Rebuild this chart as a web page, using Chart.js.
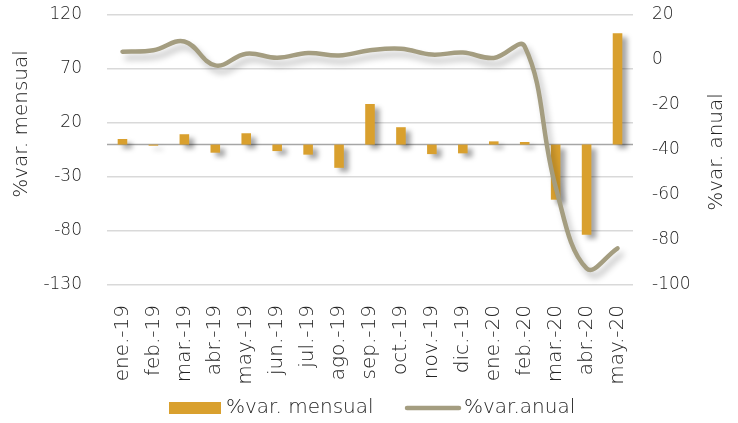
<!DOCTYPE html>
<html>
<head>
<meta charset="utf-8">
<script src="https://cdn.jsdelivr.net/npm/chart.js@4"></script>
<style>
  html, body { margin: 0; padding: 0; background: #fff; }
  #wrap { width: 738px; height: 423px; position: relative; }
</style>
</head>
<body>
<div id="wrap"><canvas id="c" width="738" height="423"></canvas></div>
<script>
const categories = ['ene.-19','feb.-19','mar.-19','abr.-19','may.-19','jun.-19','jul.-19','ago.-19','sep.-19','oct.-19','nov.-19','dic.-19','ene.-20','feb.-20','mar.-20','abr.-20','may.-20'];
const varMensual = [5.2, -1, 9.6, -7.5, 10.5, -6, -9.3, -21.5, 37.6, 16.1, -8.8, -8.1, 3, 2.4, -51, -83.4, 103];
const varAnual = [3.7, 4.3, 8.2, -2.4, 2.8, 1, 3.1, 2, 4.3, 5, 2.4, 3.3, 0.9, 6, -56.4, -92.6, -83.7];
const leftTicks = [-130, -80, -30, 20, 70, 120];
const rightTicks = [-100, -80, -60, -40, -20, 0, 20];
const seriesNames = ['%var. mensual', '%var.anual'];
const axisTitles = ['%var. mensual', '%var. anual'];

const BAR = '#D9A02E';
const LINE = '#A49D80';
const TXT = '#222222';
const FONT = 'DejaVu Sans';
const WEIGHT = 200;

const shadowPlugin = {
  id: 'shadows',
  beforeDatasetDraw(chart, args) {
    const ctx = chart.ctx;
    ctx.save();
    if (args.index === 0) {
      ctx.shadowColor = 'rgba(0,0,0,0.35)';
      ctx.shadowBlur = 5;
      ctx.shadowOffsetX = 5;
      ctx.shadowOffsetY = 4;
    } else {
      ctx.shadowColor = 'rgba(0,0,0,0.25)';
      ctx.shadowBlur = 6;
      ctx.shadowOffsetX = 4;
      ctx.shadowOffsetY = 6;
    }
  },
  afterDatasetDraw(chart) {
    chart.ctx.restore();
  }
};

const zeroLine = {
  id: 'zeroLine',
  beforeDatasetsDraw(chart) {
    const {ctx, chartArea, scales} = chart;
    const y = scales.y.getPixelForValue(0);
    ctx.save();
    ctx.strokeStyle = '#a6a6a6';
    ctx.lineWidth = 1.5;
    ctx.beginPath();
    ctx.moveTo(chartArea.left, y);
    ctx.lineTo(chartArea.right, y);
    ctx.stroke();
    ctx.restore();
  }
};

const extras = {
  id: 'extras',
  afterDraw(chart) {
    const ctx = chart.ctx;
    ctx.save();
    ctx.fillStyle = TXT;
    ctx.font = WEIGHT + ' 20px "' + FONT + '"';
    ctx.textAlign = 'center';
    ctx.textBaseline = 'middle';
    ctx.save();
    ctx.translate(22, 124);
    ctx.rotate(-Math.PI / 2);
    ctx.fillText(axisTitles[0], 0, 0);
    ctx.restore();
    ctx.save();
    ctx.translate(717, 152);
    ctx.rotate(-Math.PI / 2);
    ctx.fillText(axisTitles[1], 0, 0);
    ctx.restore();
    const ly = 408;
    ctx.textAlign = 'left';
    ctx.fillStyle = BAR;
    ctx.fillRect(169, ly - 6, 52, 12);
    ctx.fillStyle = TXT;
    ctx.fillText(seriesNames[0], 226, ly);
    ctx.strokeStyle = LINE;
    ctx.lineWidth = 4.5;
    ctx.lineCap = 'round';
    ctx.beginPath();
    ctx.moveTo(407, ly);
    ctx.lineTo(459, ly);
    ctx.stroke();
    ctx.fillText(seriesNames[1], 464, ly);
    ctx.restore();
  }
};

new Chart(document.getElementById('c'), {
  data: {
    labels: categories,
    datasets: [
      {
        type: 'bar',
        label: seriesNames[0],
        data: varMensual,
        backgroundColor: BAR,
        borderWidth: 0,
        yAxisID: 'y',
        order: 2,
        barPercentage: 1,
        categoryPercentage: 0.31
      },
      {
        type: 'line',
        label: seriesNames[1],
        data: varAnual,
        borderColor: LINE,
        borderWidth: 4.5,
        pointRadius: 0,
        tension: 0.4,
        fill: false,
        yAxisID: 'y1',
        order: 1,
        borderCapStyle: 'round'
      }
    ]
  },
  options: {
    responsive: false,
    animation: false,
    devicePixelRatio: 1,
    layout: { padding: { top: 15, bottom: 33, left: 0, right: 0 } },
    plugins: {
      legend: { display: false },
      tooltip: { enabled: false }
    },
    scales: {
      x: {
        grid: { display: false },
        border: { display: false },
        ticks: {
          color: TXT,
          font: { family: FONT, size: 20, weight: WEIGHT },
          minRotation: 90,
          maxRotation: 90,
          padding: 12,
          autoSkip: false
        },
        afterFit(s) { s.height = 105; s.paddingLeft = 0; s.paddingRight = 0; }
      },
      y: {
        position: 'left',
        min: -130,
        max: 120,
        afterBuildTicks(s) { s.ticks = leftTicks.map(v => ({ value: v })); },
        grid: { color: '#d9d9d9', lineWidth: 1.5, drawTicks: false },
        border: { display: false },
        ticks: {
          color: TXT,
          font: { family: FONT, size: 17, weight: WEIGHT },
          padding: 25
        },
        afterFit(s) { s.width = 107; s.paddingTop = 0; s.paddingBottom = 0; }
      },
      y1: {
        position: 'right',
        min: -100,
        max: 20,
        afterBuildTicks(s) { s.ticks = rightTicks.map(v => ({ value: v })); },
        grid: { display: false, drawTicks: false },
        border: { display: false },
        ticks: {
          color: TXT,
          font: { family: FONT, size: 17, weight: WEIGHT },
          padding: 19
        },
        afterFit(s) { s.width = 105; s.paddingTop = 0; s.paddingBottom = 0; }
      }
    }
  },
  plugins: [shadowPlugin, zeroLine, extras]
});
</script>
</body>
</html>
